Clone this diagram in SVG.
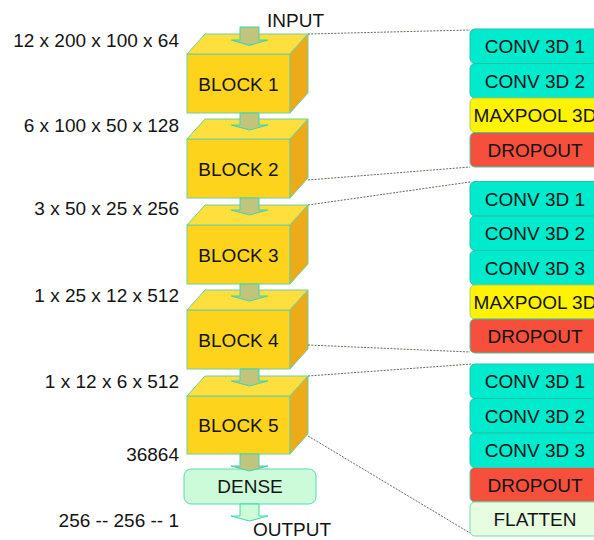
<svg xmlns="http://www.w3.org/2000/svg" width="594" height="540" viewBox="0 0 594 540">
<style>
text{font-family:"Liberation Sans",Arial,sans-serif;font-size:19px;fill:#141414}
.lbl{text-anchor:end}
.c{text-anchor:middle}
.front{fill:#fdd31c;stroke:#6fcfa0;stroke-width:1}
.top{fill:#fedf3e;stroke:#6fcfa0;stroke-width:1}
.side{fill:#eeab18;stroke:#6fcfa0;stroke-width:1}
.arr{fill:#c0c47c;stroke:#3fd4b4;stroke-width:1}
.arrL{fill:#ccffd6;stroke:#3fd4b4;stroke-width:1}
.dot{stroke:#5a7250;stroke-width:1;stroke-dasharray:2 1.3;fill:none}
.conv{fill:#00eacd;stroke:#22c4a8;stroke-width:1}
.pool{fill:#fff300;stroke:#a8d060;stroke-width:1}
.drop{fill:#f64f3b;stroke:#3fc9a8;stroke-width:1}
.flat{fill:#e6fde0;stroke:#7ad8b0;stroke-width:1}
.dense{fill:#ccfbd9;stroke:#5fd6b6;stroke-width:1}
</style>
<defs>
<path id="arrow" d="M-9.5,0 h19 v12 h9 l-18.5,5 l-18.5,-5 h9 z"/>
</defs>

<g id="labels">
<text class="lbl" x="179" y="47">12 x 200 x 100 x 64</text>
<text class="lbl" x="179" y="132">6 x 100 x 50 x 128</text>
<text class="lbl" x="179" y="215">3 x 50 x 25 x 256</text>
<text class="lbl" x="179" y="302">1 x 25 x 12 x 512</text>
<text class="lbl" x="179" y="388">1 x 12 x 6 x 512</text>
<text class="lbl" x="179" y="461">36864</text>
<text class="lbl" x="179" y="527">256 -- 256 -- 1</text>
<text x="267" y="27">INPUT</text>
<text x="253" y="536">OUTPUT</text>
</g>

<g id="block1">
<rect class="front" x="187" y="54" width="103" height="59"/>
<polygon class="top" points="187,54 205,34 308,34 290,54"/>
<polygon class="side" points="290,54 308,34 308,93 290,113"/>
<text class="c" x="238.5" y="91">BLOCK 1</text>
</g>
<g id="block2">
<rect class="front" x="187" y="139" width="103" height="59"/>
<polygon class="top" points="187,139 205,119 308,119 290,139"/>
<polygon class="side" points="290,139 308,119 308,178 290,198"/>
<text class="c" x="238.5" y="176">BLOCK 2</text>
</g>
<g id="block3">
<rect class="front" x="187" y="225" width="103" height="59"/>
<polygon class="top" points="187,225 205,205 308,205 290,225"/>
<polygon class="side" points="290,225 308,205 308,264 290,284"/>
<text class="c" x="238.5" y="262">BLOCK 3</text>
</g>
<g id="block4">
<rect class="front" x="187" y="310" width="103" height="59"/>
<polygon class="top" points="187,310 205,290 308,290 290,310"/>
<polygon class="side" points="290,310 308,290 308,349 290,369"/>
<text class="c" x="238.5" y="347">BLOCK 4</text>
</g>
<g id="block5">
<rect class="front" x="187" y="396" width="103" height="58"/>
<polygon class="top" points="187,396 205,376 308,376 290,396"/>
<polygon class="side" points="290,396 308,376 308,434 290,454"/>
<text class="c" x="238.5" y="432">BLOCK 5</text>
</g>
<g id="dense">
<rect class="dense" x="184" y="469" width="132" height="35" rx="7"/>
<text class="c" x="250" y="493">DENSE</text>
</g>

<g id="group1">
<g id="g1-conv1"><rect class="conv" x="470" y="29" width="132" height="34.5" rx="5"/><text class="c" x="535" y="53">CONV 3D 1</text></g>
<g id="g1-conv2"><rect class="conv" x="470" y="63.5" width="132" height="34.5" rx="5"/><text class="c" x="535" y="87.5">CONV 3D 2</text></g>
<g id="g1-pool"><rect class="pool" x="470" y="98" width="132" height="34.5" rx="5"/><text class="c" x="535" y="122">MAXPOOL 3D</text></g>
<g id="g1-drop"><rect class="drop" x="470" y="132.5" width="132" height="34.5" rx="5"/><text class="c" x="535" y="156.5">DROPOUT</text></g>
</g>
<g id="group2">
<g id="g2-conv1"><rect class="conv" x="470" y="181.5" width="132" height="34.5" rx="5"/><text class="c" x="535" y="205.5">CONV 3D 1</text></g>
<g id="g2-conv2"><rect class="conv" x="470" y="216" width="132" height="34.5" rx="5"/><text class="c" x="535" y="240">CONV 3D 2</text></g>
<g id="g2-conv3"><rect class="conv" x="470" y="250.5" width="132" height="34.5" rx="5"/><text class="c" x="535" y="274.5">CONV 3D 3</text></g>
<g id="g2-pool"><rect class="pool" x="470" y="285" width="132" height="34" rx="5"/><text class="c" x="535" y="309">MAXPOOL 3D</text></g>
<g id="g2-drop"><rect class="drop" x="470" y="319" width="132" height="34" rx="5"/><text class="c" x="535" y="342.5">DROPOUT</text></g>
</g>
<g id="group3">
<g id="g3-conv1"><rect class="conv" x="470" y="364" width="132" height="34.5" rx="5"/><text class="c" x="535" y="388">CONV 3D 1</text></g>
<g id="g3-conv2"><rect class="conv" x="470" y="398.5" width="132" height="34.5" rx="5"/><text class="c" x="535" y="422.5">CONV 3D 2</text></g>
<g id="g3-conv3"><rect class="conv" x="470" y="433" width="132" height="34.5" rx="5"/><text class="c" x="535" y="457">CONV 3D 3</text></g>
<g id="g3-drop"><rect class="drop" x="470" y="467.5" width="132" height="34.5" rx="5"/><text class="c" x="535" y="491.5">DROPOUT</text></g>
<g id="g3-flat"><rect class="flat" x="470" y="502" width="132" height="34" rx="5"/><text class="c" x="535" y="526">FLATTEN</text></g>
</g>

<g id="connectors">
<use href="#arrow" class="arr" transform="translate(249.5,27) scale(1,1.08)"/>
<use href="#arrow" class="arr" transform="translate(249.5,113)"/>
<use href="#arrow" class="arr" transform="translate(249.5,198)"/>
<use href="#arrow" class="arr" transform="translate(249.5,284)"/>
<use href="#arrow" class="arr" transform="translate(249.5,369)"/>
<use href="#arrow" class="arr" transform="translate(249.5,454)"/>
<use href="#arrow" class="arrL" transform="translate(249.5,504)"/>
<line class="dot" x1="308" y1="34" x2="470" y2="30"/>
<line class="dot" x1="308" y1="180" x2="470" y2="167"/>
<line class="dot" x1="308" y1="205" x2="470" y2="182"/>
<line class="dot" x1="308" y1="345" x2="470" y2="352"/>
<line class="dot" x1="308" y1="376" x2="472" y2="364"/>
<line class="dot" x1="308" y1="436" x2="470" y2="533"/>
</g>
</svg>
